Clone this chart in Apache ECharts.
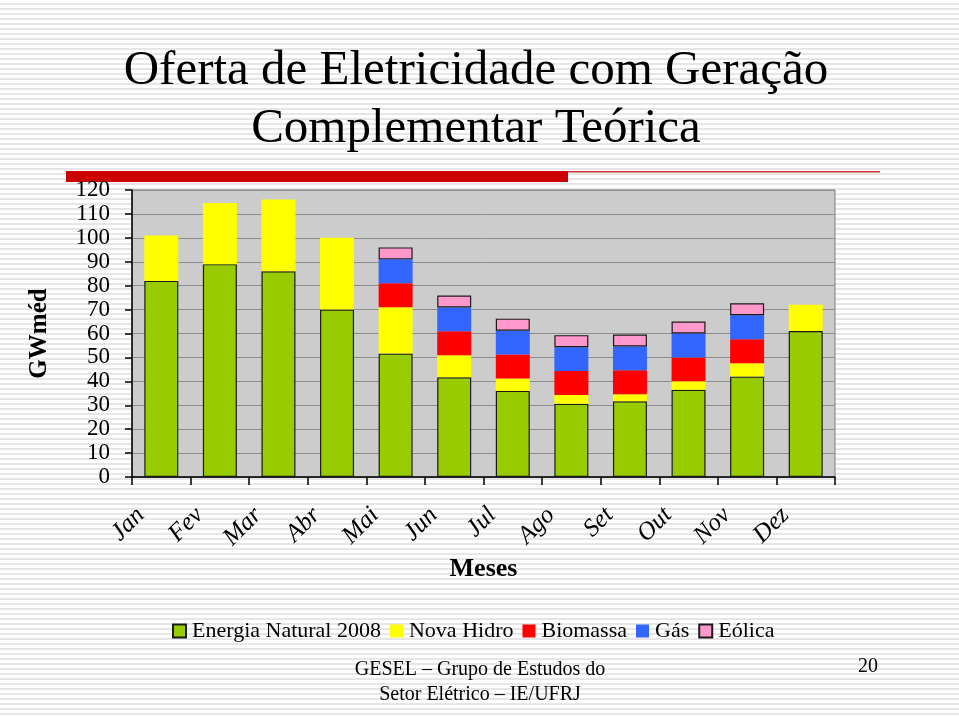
<!DOCTYPE html>
<html>
<head>
<meta charset="utf-8">
<script src="https://cdn.jsdelivr.net/npm/echarts@6/dist/echarts.min.js"></script>
<style>
  html, body {
    margin: 0;
    padding: 0;
  }
  body {
    width: 959px;
    height: 717px;
    background: repeating-linear-gradient(to bottom, #ffffff 0, #ffffff 3px, #e6e6e6 3px, #e6e6e6 5px);
  }
  #main {
    width: 959px;
    height: 717px;
  }
</style>
</head>
<body>
<div id="main"></div>
<script>
// meses
const meses = ["Jan", "Fev", "Mar", "Abr", "Mai", "Jun", "Jul", "Ago", "Set", "Out", "Nov", "Dez"];

// GWméd por fonte (empilhado)
const energiaNatural = [82, 89, 86, 70, 51.6, 41.7, 36, 30.6, 31.7, 36.5, 42, 61];
const novaHidro = [19, 25.6, 30, 30, 19.4, 9.2, 5.2, 3.7, 2.9, 3.5, 5.6, 11];
const biomassa = ["-", "-", "-", "-", 10, 10, 10, 10, 10, 10, 10, "-"];
const gas = ["-", "-", "-", "-", 10, 10, 10, 10, 10, 10, 10, "-"];
const eolica = ["-", "-", "-", "-", 5, 5, 5, 5, 5, 5, 5, "-"];

const yTicks = [0, 10, 20, 30, 40, 50, 60, 70, 80, 90, 100, 110, 120];

const serif = "'Liberation Serif', 'DejaVu Serif', serif";

function serie(name, data, color, border) {
  return {
    name,
    type: "bar",
    stack: "total",
    data,
    barWidth: "58%",
    itemStyle: {
      color,
      borderColor: border ? "#1a1a1a" : color,
      borderWidth: border ? 1.2 : 0,
    },
  };
}

const chart = echarts.init(document.getElementById("main"));

chart.setOption({
  animation: false,
  textStyle: { fontFamily: serif },
  grid: {
    left: 132,
    right: 124,
    top: 190,
    bottom: 240,
    show: true,
    backgroundColor: "#cccccc",
    borderColor: "#7f7f7f",
    borderWidth: 1,
  },
  legend: {
    bottom: 70,
    left: 167,
    itemWidth: 13,
    itemHeight: 13,
    itemGap: 9,
    icon: "rect",
    textStyle: { fontFamily: serif, fontSize: 22, color: "#000", padding: [0, 0, 0, 1] },
    data: ["Energia Natural 2008", "Nova Hidro", "Biomassa", "Gás", "Eólica"],
  },
  xAxis: {
    type: "category",
    data: meses,
    name: "Meses",
    nameLocation: "middle",
    nameGap: 79,
    nameTextStyle: { fontFamily: serif, fontSize: 26, fontWeight: "bold", color: "#000" },
    axisLine: { lineStyle: { color: "#000", width: 1.5 } },
    axisTick: { show: true, length: 8, lineStyle: { color: "#000", width: 1.5 } },
    axisLabel: {
      rotate: 45,
      margin: 14,
      padding: [0, 29, 0, 0],
      fontFamily: serif,
      fontStyle: "italic",
      fontSize: 25,
      color: "#000",
      interval: 0,
    },
  },
  yAxis: {
    type: "value",
    min: 0,
    max: 120,
    interval: 10,
    name: "GWméd",
    nameLocation: "middle",
    nameGap: 80,
    nameTextStyle: { fontFamily: serif, fontSize: 25, fontWeight: "bold", color: "#000" },
    axisLine: { show: true, lineStyle: { color: "#000", width: 1.5 } },
    axisTick: { show: true, length: 7, lineStyle: { color: "#000", width: 1.5 } },
    axisLabel: {
      margin: 22,
      fontFamily: serif,
      fontSize: 23,
      color: "#000",
      showMinLabel: true,
      showMaxLabel: true,
      formatter: (v) => (yTicks.includes(v) ? String(v) : ""),
    },
    splitLine: { lineStyle: { color: "#8c8c8c", width: 1 } },
  },
  series: [
    serie("Energia Natural 2008", energiaNatural, "#99cc00", true),
    serie("Nova Hidro", novaHidro, "#ffff00", false),
    serie("Biomassa", biomassa, "#ff0000", false),
    serie("Gás", gas, "#3366ff", false),
    serie("Eólica", eolica, "#ff99cc", true),
  ],
  graphic: [
    {
      type: "text",
      x: 476,
      y: 71,
      style: {
        text: "Oferta de Eletricidade com Geração",
        fontFamily: serif,
        fontSize: 49,
        align: "center",
        verticalAlign: "middle",
        fill: "#000",
      },
    },
    {
      type: "text",
      x: 476,
      y: 129,
      style: {
        text: "Complementar Teórica",
        fontFamily: serif,
        fontSize: 49,
        align: "center",
        verticalAlign: "middle",
        fill: "#000",
      },
    },
    { type: "rect", shape: { x: 66, y: 171, width: 502, height: 11 }, style: { fill: "#cc0000" } },
    { type: "rect", shape: { x: 568, y: 171, width: 312, height: 1.5 }, style: { fill: "#cc3333" } },
    {
      type: "text",
      x: 480,
      y: 657,
      style: {
        text: "GESEL – Grupo de Estudos do\nSetor Elétrico – IE/UFRJ",
        fontFamily: serif,
        fontSize: 20,
        lineHeight: 25,
        align: "center",
        fill: "#000",
      },
    },
    {
      type: "text",
      x: 858,
      y: 657,
      style: { text: "20", fontFamily: serif, fontSize: 20, fill: "#000" },
    },
  ],
});
</script>
</body>
</html>
